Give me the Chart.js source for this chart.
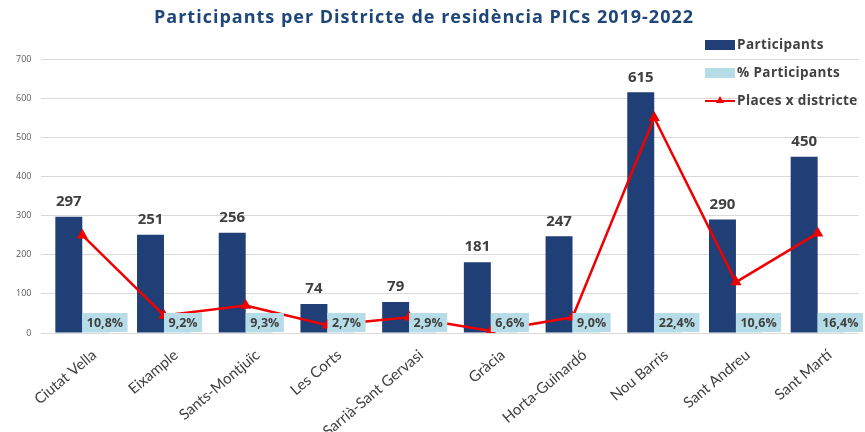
<!DOCTYPE html>
<html>
<head>
<meta charset="utf-8">
<script src="https://cdn.jsdelivr.net/npm/chart.js@4.4.0/dist/chart.umd.min.js"></script>
<style>
  html, body { margin: 0; padding: 0; background: #fff; }
  #wrap { width: 865px; height: 432px; }
</style>
</head>
<body>
<div id="wrap"><canvas id="myChart"></canvas></div>
<script>
var categories = ['Ciutat Vella', 'Eixample', 'Sants-Montjuïc', 'Les Corts', 'Sarrià-Sant Gervasi',
	'Gràcia', 'Horta-Guinardó', 'Nou Barris', 'Sant Andreu', 'Sant Martí'];
var participants = [297, 251, 256, 74, 79, 181, 247, 615, 290, 450];
var pctParticipants = [0.108, 0.092, 0.093, 0.027, 0.029, 0.066, 0.090, 0.224, 0.106, 0.164];
var placesDistricte = [250, 45, 70, 20, 40, 5, 40, 550, 130, 255];
var yTicks = [0, 100, 200, 300, 400, 500, 600, 700];
var title = 'Participants per Districte de residència PICs 2019-2022';

var darkBlue = '#1f3f76';
var lightBlue = '#b5dce7';
var red = '#f00000';
var textGrey = '#404040';
var font = "'Open Sans', sans-serif";

// title, legend, labels on top of the bars and % boxes at the base
var labelsPlugin = {
	id: 'labels',
	afterDatasetsDraw: function(chart) {
		var ctx = chart.ctx;
		ctx.save();
		ctx.textAlign = 'center';
		ctx.textBaseline = 'middle';
		ctx.fillStyle = textGrey;
		ctx.font = 'bold 15px ' + font;
		chart.getDatasetMeta(1).data.forEach(function(bar, i) {
			ctx.fillText(participants[i], bar.x, bar.y - 15);
		});
		ctx.font = 'bold 12.5px ' + font;
		var base = chart.scales.y.getPixelForValue(0);
		chart.getDatasetMeta(2).data.forEach(function(bar, i) {
			var txt = (pctParticipants[i] * 100).toFixed(1).replace('.', ',') + '%';
			var w = ctx.measureText(txt).width + 9;
			var left = bar.x - bar.width / 2;
			ctx.fillStyle = lightBlue;
			ctx.fillRect(left, base - 20, w, 19);
			ctx.fillStyle = textGrey;
			ctx.fillText(txt, left + w / 2, base - 10);
		});
		ctx.restore();
	},
	afterDraw: function(chart) {
		var ctx = chart.ctx;
		ctx.save();
		ctx.fillStyle = '#1f4679';
		ctx.font = 'bold 18px ' + font;
		ctx.letterSpacing = '1px';
		ctx.textAlign = 'center';
		ctx.textBaseline = 'middle';
		ctx.fillText(title, 424, 18);
		ctx.letterSpacing = '0px';

		var x = 705, ys = [45, 73, 101];
		var names = ['Participants', '% Participants', 'Places x districte'];
		ctx.fillStyle = darkBlue;
		ctx.fillRect(x, ys[0] - 5, 30, 10);
		ctx.fillStyle = lightBlue;
		ctx.fillRect(x, ys[1] - 5, 30, 10);
		ctx.strokeStyle = red;
		ctx.lineWidth = 2;
		ctx.beginPath();
		ctx.moveTo(x, ys[2]);
		ctx.lineTo(x + 30, ys[2]);
		ctx.stroke();
		ctx.fillStyle = red;
		ctx.beginPath();
		ctx.moveTo(x + 15, ys[2] - 5);
		ctx.lineTo(x + 19, ys[2] + 2);
		ctx.lineTo(x + 11, ys[2] + 2);
		ctx.closePath();
		ctx.fill();
		ctx.fillStyle = textGrey;
		ctx.font = 'bold 13.5px ' + font;
		ctx.letterSpacing = '0.4px';
		ctx.textAlign = 'left';
		names.forEach(function(n, i) {
			ctx.fillText(n, x + 32, ys[i]);
		});
		ctx.restore();
	}
};

var ctx = document.getElementById('myChart');
var myChart = new Chart(ctx, {
	data: {
		labels: categories,
		datasets: [{
			type: 'line',
			label: 'Places x districte',
			data: placesDistricte,
			borderColor: red,
			backgroundColor: red,
			borderWidth: 2.5,
			pointStyle: 'triangle',
			pointRadius: 4,
			tension: 0,
			order: 0
		}, {
			type: 'bar',
			label: 'Participants',
			data: participants,
			backgroundColor: darkBlue,
			categoryPercentage: 0.66,
			barPercentage: 1.0,
			order: 1
		}, {
			type: 'bar',
			label: '% Participants',
			data: pctParticipants,
			backgroundColor: lightBlue,
			categoryPercentage: 0.66,
			barPercentage: 1.0,
			order: 1
		}]
	},
	options: {
		responsive: true,
		maintainAspectRatio: false,
		animation: false,
		layout: { padding: { left: 6, right: 0, top: 59, bottom: 0 } },
		plugins: {
			legend: { display: false },
			tooltip: { enabled: false },
			title: { display: false }
		},
		scales: {
			x: {
				grid: { display: false },
				border: { display: false },
				afterFit: function(axis) { axis.height = 99; },
				ticks: {
					color: textGrey,
					font: { family: 'Lato, sans-serif', size: 15 },
					maxRotation: 40,
					minRotation: 40,
					padding: 5,
					labelOffset: 12
				}
			},
			y: {
				min: 0,
				max: 700,
				afterBuildTicks: function(axis) {
					axis.ticks = yTicks.map(function(v) { return { value: v }; });
				},
				grid: { color: '#d9d9d9', drawTicks: false },
				border: { display: false },
				ticks: {
					color: '#595959',
					font: { family: font, size: 9 },
					padding: 10
				}
			}
		}
	},
	plugins: [labelsPlugin]
});
</script>
</body>
</html>
